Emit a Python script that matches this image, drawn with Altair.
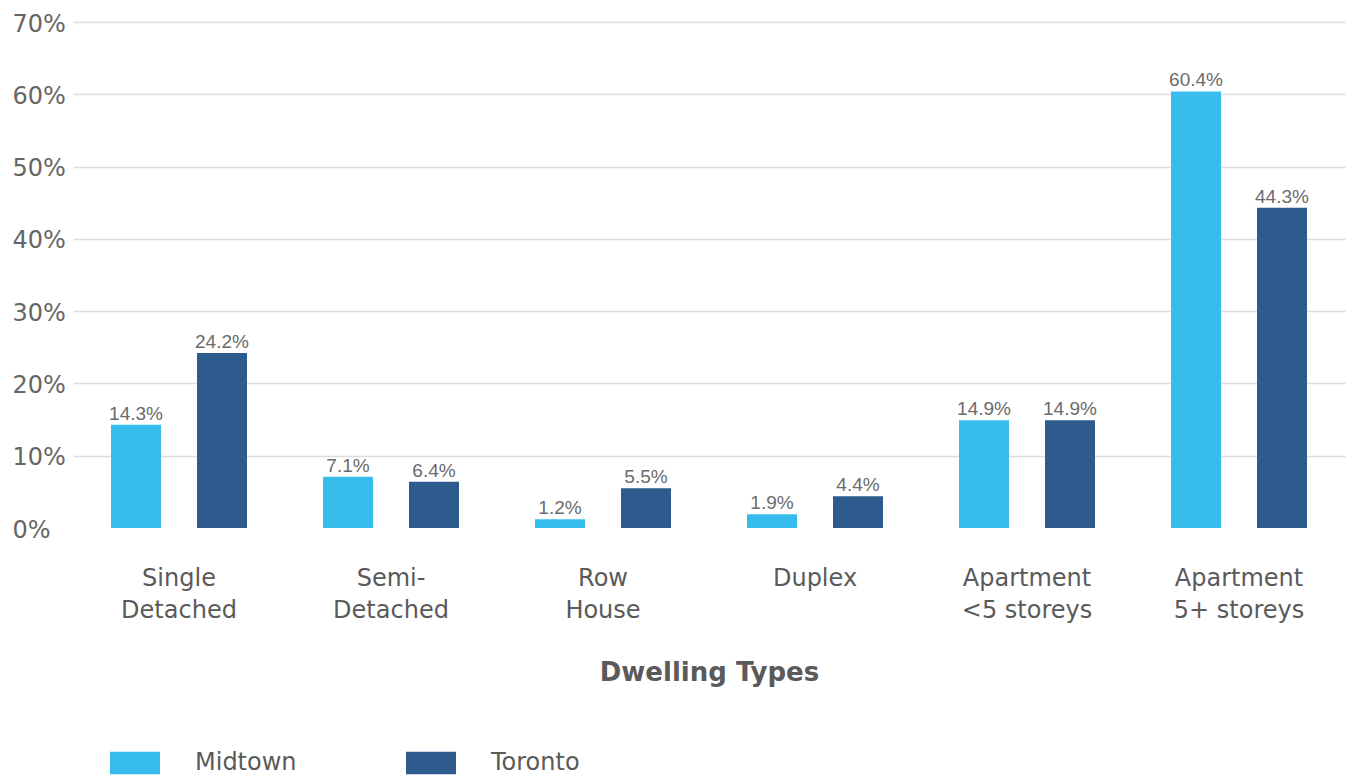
import altair as alt
import pandas as pd

categories = ["Single|Detached", "Semi-|Detached", "Row|House", "Duplex",
              "Apartment|<5 storeys", "Apartment|5+ storeys"]
series = ["Midtown", "Toronto"]
midtown = [14.3, 7.1, 1.2, 1.9, 14.9, 60.4]
toronto = [24.2, 6.4, 5.5, 4.4, 14.9, 44.3]
colors = ["#36BDEE", "#2E5B8E"]
y_ticks = [0, 0.1, 0.2, 0.3, 0.4, 0.5, 0.6, 0.7]

rows = []
for c, m, t in zip(categories, midtown, toronto):
    rows.append({"type": c, "area": "Midtown", "share": m / 100})
    rows.append({"type": c, "area": "Toronto", "share": t / 100})
df = pd.DataFrame(rows)

FONT = "DejaVu Sans"
GRAY = "#5a5a5a"

base = alt.Chart(df).encode(
    x=alt.X(
        "type:N",
        sort=categories,
        scale=alt.Scale(paddingInner=0, paddingOuter=0),
        axis=alt.Axis(
            title="Dwelling Types",
            labelExpr="split(datum.label, '|')",
            labelAngle=0,
            domain=False,
            ticks=False,
            labelFont=FONT,
            labelFontSize=24,
            labelColor=GRAY,
            labelLineHeight=32,
            labelPadding=38,
            labelBaseline="top",
            titleFont=FONT,
            titleFontSize=26,
            titleFontWeight="bold",
            titleColor=GRAY,
            titlePadding=37,
        ),
    ),
    xOffset=alt.XOffset(
        "area:N", sort=series,
        scale=alt.Scale(paddingInner=0.4186, paddingOuter=0.442),
    ),
    y=alt.Y(
        "share:Q",
        scale=alt.Scale(domain=[0, 0.7], nice=False),
        axis=alt.Axis(
            title=None,
            values=y_ticks,
            format=".0%",
            domain=False,
            ticks=False,
            tickSize=0,
            labelAlign="left",
            labelPadding=61,
            labelOffset=2,
            labelFont=FONT,
            labelFontSize=24,
            labelColor="#666666",
            grid=True,
            gridColor={"condition": {"test": "datum.value === 0", "value": "transparent"},
                       "value": "#dddddd"},
            gridWidth=1.5,
        ),
    ),
)

bars = base.mark_bar().encode(
    color=alt.Color(
        "area:N",
        sort=series,
        scale=alt.Scale(domain=series, range=colors),
        legend=alt.Legend(
            title=None,
            orient="none",
            legendX=37,
            legendY=716,
            direction="horizontal",
            symbolType="M-1,-0.45H1V0.45H-1Z",
            symbolSize=2500,
            symbolStrokeWidth=0,
            symbolOpacity=1,
            labelFont=FONT,
            labelFontSize=24,
            labelColor=GRAY,
            labelOffset=35,
            columnPadding=109,
            padding=0,
        ),
    )
)

labels = base.mark_text(
    baseline="alphabetic", dy=-5,
    font="Liberation Sans Narrow, Arial Narrow, Liberation Sans, sans-serif",
    fontSize=19, color="#6b6b6b",
).encode(text=alt.Text("share:Q", format=".1%"))

chart = (
    alt.layer(bars, labels)
    .properties(
        width=1272,
        height=506,
        autosize=alt.AutoSizeParams(type="none"),
        padding={"left": 73, "top": 22, "right": 4, "bottom": 248},
        background="white",
    )
    .configure_view(stroke=None)
)

chart.save("out.html", embed_options={"renderer": "svg", "actions": False})
